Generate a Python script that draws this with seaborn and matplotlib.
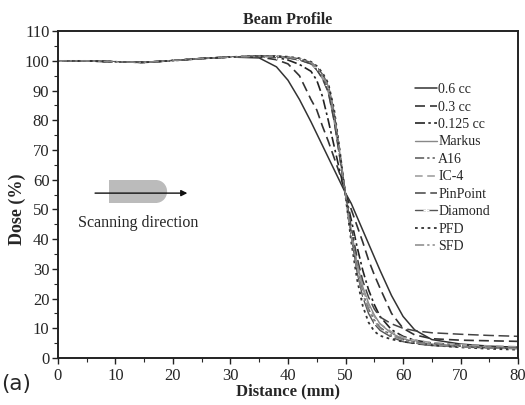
import numpy as np
import pandas as pd
import matplotlib
matplotlib.use("Agg")
import matplotlib.pyplot as plt
from matplotlib.patches import Rectangle, Ellipse
import seaborn as sns

# distance (mm) sample points shared by every detector
distance = [0, 5, 10, 15, 20, 25, 30, 35, 38, 40, 42, 44, 45, 46, 47, 48, 49,
            50, 51, 52, 53, 54, 55, 56, 58, 60, 62, 65, 70, 75, 80]

plateau = [100.0, 100.0, 99.7, 99.5, 100.1, 100.8, 101.3]

dose_06cc = plateau + [101.0, 98.0, 93.5, 87.0, 79.5, 75.5, 71.5, 67.5, 63.5, 59.5,
                       55.5, 52.0, 47.5, 43.0, 38.5, 34.0, 29.5, 21.0, 14.0, 9.5,
                       6.2, 4.7, 4.0, 3.6]
dose_03cc = plateau + [101.3, 100.4, 99.0, 95.0, 87.0, 83.5, 78.0, 73.0, 67.5, 62.0,
                       55.5, 50.0, 44.5, 39.0, 33.0, 28.0, 23.5, 15.0, 10.0, 7.8,
                       6.5, 6.0, 5.8, 5.6]
dose_0125cc = plateau + [101.5, 101.2, 100.3, 98.8, 96.5, 93.5, 88.0, 80.0, 71.5, 63.0,
                         55.0, 46.5, 37.5, 29.5, 23.0, 18.0, 14.0, 9.5, 7.3, 6.0,
                         5.0, 4.2, 3.8, 3.5]
dose_markus = plateau + [101.6, 101.4, 101.0, 100.3, 99.0, 97.0, 94.0, 89.5, 80.0, 67.5,
                         55.0, 43.0, 32.0, 24.0, 18.5, 14.5, 11.5, 8.3, 6.5, 5.5,
                         4.7, 4.0, 3.6, 3.3]
dose_a16 = plateau + [101.6, 101.5, 101.2, 100.5, 99.3, 97.5, 95.0, 91.0, 82.0, 69.0,
                      55.0, 41.5, 30.0, 22.0, 16.5, 12.8, 10.3, 7.6, 6.2, 5.3,
                      4.5, 3.9, 3.5, 3.2]
dose_ic4 = plateau + [101.5, 101.4, 101.1, 100.4, 99.0, 97.2, 94.5, 90.5, 81.0, 68.0,
                      55.0, 42.5, 31.5, 23.5, 17.5, 14.0, 11.5, 8.8, 7.0, 6.0,
                      5.2, 4.5, 4.1, 3.8]
dose_pinpoint = plateau + [101.6, 101.4, 101.0, 100.3, 99.0, 97.0, 94.0, 89.5, 80.0, 67.5,
                           55.0, 44.0, 34.0, 26.0, 20.5, 16.5, 13.8, 11.5, 10.0, 9.2,
                           8.5, 8.0, 7.6, 7.3]
dose_diamond = plateau + [101.7, 101.6, 101.3, 100.7, 99.5, 98.0, 95.5, 92.0, 83.0, 69.5,
                          55.0, 41.0, 29.0, 20.5, 15.0, 11.5, 9.3, 7.0, 5.5, 4.8,
                          4.2, 3.7, 3.4, 3.2]
dose_pfd = plateau + [101.7, 101.6, 101.4, 100.9, 99.7, 98.3, 96.0, 92.5, 84.0, 70.0,
                      54.5, 39.0, 26.5, 17.5, 12.0, 9.0, 7.5, 6.3, 5.5, 5.0,
                      4.3, 3.6, 3.1, 2.8]
dose_sfd = plateau + [101.6, 101.5, 101.2, 100.6, 99.4, 97.8, 95.3, 91.5, 82.5, 69.0,
                      55.0, 41.0, 29.5, 21.5, 16.0, 12.5, 10.0, 7.5, 6.2, 5.2,
                      4.4, 3.8, 3.4, 3.1]

detectors = ["0.6 cc", "0.3 cc", "0.125 cc", "Markus", "A16", "IC-4",
             "PinPoint", "Diamond", "PFD", "SFD"]
doses = [dose_06cc, dose_03cc, dose_0125cc, dose_markus, dose_a16, dose_ic4,
         dose_pinpoint, dose_diamond, dose_pfd, dose_sfd]

styles = {
    "0.6 cc":   dict(color="#333333", dashes=None, lw=1.1),
    "0.3 cc":   dict(color="#333333", dashes=(6, 3), lw=1.2),
    "0.125 cc": dict(color="#222222", dashes=(6, 2, 1.5, 2), lw=1.2),
    "Markus":   dict(color="#888888", dashes=None, lw=1.0),
    "A16":      dict(color="#555555", dashes=(6, 2, 1.5, 2, 1.5, 2), lw=1.1),
    "IC-4":     dict(color="#999999", dashes=(5, 3), lw=1.1),
    "PinPoint": dict(color="#444444", dashes=(7, 3), lw=1.1),
    "Diamond":  dict(color="#555555", dashes=None, lw=1.0),
    "PFD":      dict(color="#333333", dashes=(1.5, 2), lw=1.3),
    "SFD":      dict(color="#888888", dashes=(6, 2, 1.5, 2, 1.5, 2), lw=1.1),
}

df = pd.concat([pd.DataFrame({"Distance": distance, "Dose": d, "Detector": name})
                for name, d in zip(detectors, doses)], ignore_index=True)

sns.set_style("ticks")
plt.rcParams["font.family"] = ["Liberation Serif", "DejaVu Serif"]
plt.rcParams["xtick.direction"] = "out"
plt.rcParams["ytick.direction"] = "out"

fig = plt.figure(figsize=(5.25, 4.05), dpi=100)
ax = fig.add_axes([0.11, 0.116, 0.877, 0.807])

for name in detectors:
    st = styles[name]
    sub = df[df["Detector"] == name]
    kw = {}
    if name == "Diamond":
        kw = dict(marker="+", markersize=5, markeredgewidth=0.8, markevery=2)
    sns.lineplot(data=sub, x="Distance", y="Dose", ax=ax, color=st["color"],
                 lw=st["lw"], label=name, **kw)
    if st["dashes"] is not None:
        ax.lines[-1].set_dashes(st["dashes"])

ax.set_xlim(0, 80)
ax.set_ylim(0, 110)
ax.set_xticks(range(0, 81, 10))
ax.set_xticks(range(0, 81, 5), minor=True)
ax.set_yticks(range(0, 111, 10))
ax.set_yticks(range(0, 111, 5), minor=True)
ax.tick_params(axis="both", which="major", labelsize=12, length=4, width=1, color="#222222")
ax.tick_params(axis="both", which="minor", length=3, width=0.8)
ax.tick_params(axis="x", pad=3)
ax.tick_params(axis="y", pad=2)
for s in ax.spines.values():
    s.set_visible(True)
    s.set_linewidth(1.4)
    s.set_color("#222222")

ax.set_xlabel("Distance (mm)", fontsize=12, fontweight="bold", labelpad=0)
ax.set_ylabel("Dose (%)", fontsize=13, fontweight="bold")
ax.yaxis.set_label_coords(-0.069, 0.456)
ax.set_title("Beam Profile", fontsize=11.5, fontweight="bold", pad=5)

ax.legend(loc="upper left", bbox_to_anchor=(0.763, 0.858), frameon=False,
          fontsize=10, handlelength=1.6, handletextpad=0.1, labelspacing=0.32,
          borderaxespad=0)

# scanning direction sketch
ax.add_patch(Rectangle((8.9, 52.2), 8.3, 7.7, facecolor="#bbbbbb", edgecolor="none", zorder=2))
ax.add_patch(Ellipse((17.1, 56.05), 3.8, 7.7, facecolor="#bbbbbb", edgecolor="none", zorder=2))
ax.annotate("", xy=(23, 55.5), xytext=(6, 55.5),
            arrowprops=dict(arrowstyle="-|>", color="#111111", lw=1.0, mutation_scale=9),
            zorder=3)
ax.text(3.5, 45.5, "Scanning direction", fontsize=11.5, va="center", ha="left")

fig.text(0.002, 0.028, "(a)", fontsize=15.5, family="DejaVu Sans", ha="left", va="bottom")

fig.savefig("out.png", dpi=100)
plt.close(fig)
